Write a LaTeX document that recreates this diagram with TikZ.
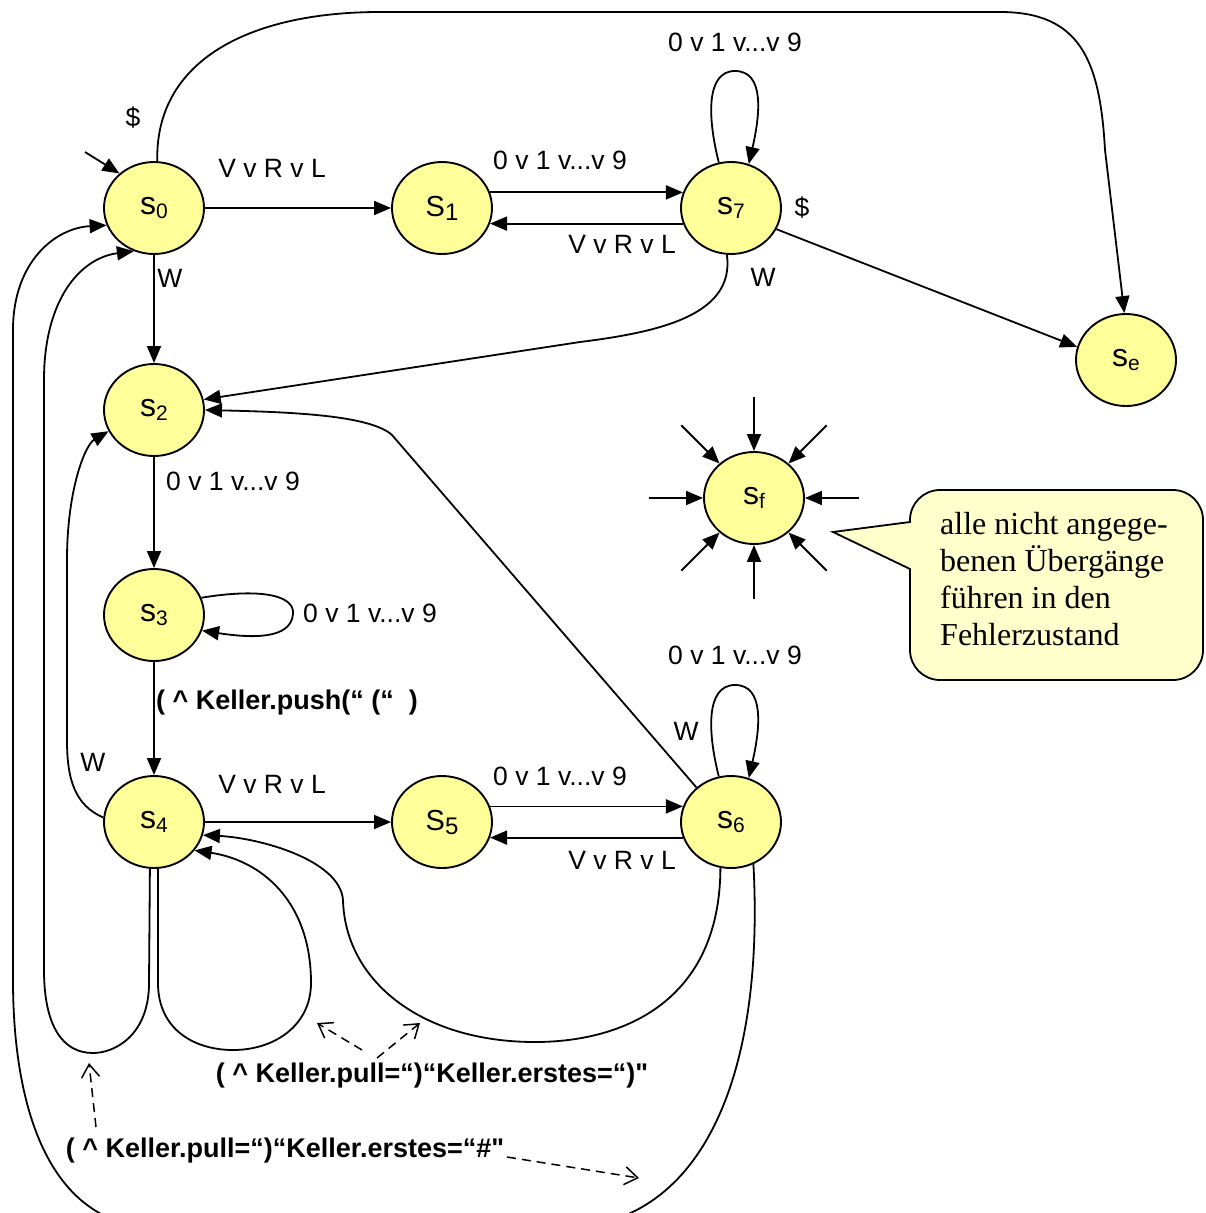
\documentclass[tikz,border=0pt]{standalone}
\usepackage{fontspec}
\setmainfont{Liberation Sans}
\newfontfamily\notefont{Liberation Serif}
\newfontfamily\qfont{Liberation Sans}[Ligatures=ResetAll]
\usetikzlibrary{arrows.meta,shapes.geometric,calc}
\definecolor{stateyellow}{HTML}{FFFF99}
\definecolor{noteyellow}{HTML}{FFFFCC}
\newcommand\stlabel[4]{{\fontsize{#3}{#3}\selectfont #1}\raisebox{-4pt}{\fontsize{#4}{#4}\selectfont #2}}
\newcommand\straightquote{{\qfont\bfseries\symbol{34}}}
\begin{document}
\begin{tikzpicture}[x=1pt,y=-1pt,
  state/.style={ellipse, draw, line width=1.9pt, fill=stateyellow, minimum width=100pt, minimum height=92pt, inner sep=0pt},
  edge/.style={line width=1.8pt, -{Triangle[length=17pt,width=14pt]}},
  lbl/.style={font=\fontsize{26.5}{30}\selectfont, inner sep=0pt},
  blbl/.style={font=\bfseries\fontsize{27}{30}\selectfont, inner sep=0pt},
  hintarrow/.style={line width=1.5pt, dash pattern=on 9pt off 6pt, -{Straight Barb[length=13pt,width=18pt,line width=1.5pt]}}
]
\useasboundingbox (0,0) rectangle (1205,1213);
\clip (0,0) rectangle (1205,1213);

% states
\node[state] (s0) at (154,208) {\stlabel{s}{0}{32}{21}};
\node[state] (s1) at (442,208) {\stlabel{S}{1}{29}{24}};
\node[state] (s7) at (731,208) {\stlabel{s}{7}{32}{21}};
\node[state] (se) at (1126,360) {\stlabel{s}{e}{32}{21}};
\node[state] (s2) at (154,410) {\stlabel{s}{2}{32}{21}};
\node[state] (sf) at (754,498) {\stlabel{s}{f}{32}{21}};
\node[state] (s3) at (154,615) {\stlabel{s}{3}{32}{21}};
\node[state] (s4) at (154,822) {\stlabel{s}{4}{32}{21}};
\node[state] (s5) at (442,822) {\stlabel{S}{5}{29}{24}};
\node[state] (s6) at (731,822) {\stlabel{s}{6}{32}{21}};

% start arrow
\coordinate (start) at (85,152);
\draw[edge] (start) -- (s0.135);

% top row
\draw[edge] (s0.east) -- (s1.west);
\draw[edge] (s1.18) -- (s7.162);
\draw[edge] (s7.-162) -- (s1.-18);
\draw[edge] (s7.105) .. controls (708,120) and (705,71) .. (735,71) .. controls (765,71) and (760,115) .. (s7.68);
\draw[edge] (s7.-25) -- (se.165);
\draw[edge] (s0.86) .. controls (155,60) and (250,12) .. (380,12) -- (1000,12) .. controls (1080,12) and (1100,60) .. (1105,150) -- (se.92);

% left column
\draw[edge] (s0.south) -- (s2.north);
\draw[edge] (s2.south) -- (s3.north);
\draw[edge] (s3.south) -- (s4.north);
\draw[edge] (s3.20) .. controls (260,588) and (295,595) .. (293,614) .. controls (291,640) and (250,638) .. (s3.-18);

% into s2
\draw[edge] (s7.-95) .. controls (735,315) and (660,332) .. (580,342) -- (s2.12);
\draw[edge] (s6.135) -- (392,435) .. controls (370,415) and (290,412) .. (s2.east);
\draw[edge] (s4.175) .. controls (75,805) and (67,780) .. (67,740) -- (67,560) .. controls (67,490) and (85,445) .. (s2.-155);

% bottom row
\draw[edge] (s4.east) -- (s5.west);
\draw[edge] (s5.18) -- (s6.162);
\draw[edge] (s6.-162) -- (s5.-18);
\draw[edge] (s6.105) .. controls (708,734) and (705,685) .. (735,685) .. controls (765,685) and (760,729) .. (s6.68);

% returns
\draw[edge] (s4.-95) -- (149,983) .. controls (149,1035) and (115,1053) .. (93,1053) .. controls (62,1053) and (44,1025) .. (44,970) -- (44,380) .. controls (44,300) and (80,258) .. (s0.-115);
\draw[edge] (s4.-85) -- (158,983) .. controls (158,1030) and (195,1050) .. (233,1050) .. controls (275,1050) and (311,1025) .. (311,983) .. controls (311,900) and (260,860) .. (s4.-35);
\draw[edge] (s6.-103) .. controls (720,1000) and (625,1042) .. (535,1042) .. controls (420,1042) and (345,980) .. (343,900) .. controls (340,860) and (260,838) .. (s4.-15);
\draw[edge] (s6.-62) .. controls (765,1080) and (700,1228) .. (560,1228) -- (160,1228) .. controls (50,1228) and (13,1110) .. (13,980) -- (13,330) .. controls (13,262) and (55,228) .. (s0.-160);

% error state arrows
\foreach \a in {0,45,...,315}
  \draw[edge] ($(sf.\a)+(\a:54pt)$) -- (sf.\a);

% callout
\draw[line width=1.8pt, fill=noteyellow] (833,532) -- (910,569) [rounded corners=30pt] -- (910,680) -- (1203,680) -- (1203,490) -- (910,490) [sharp corners] -- (910,522) -- cycle;
\node[anchor=north west, inner sep=0pt, align=left, font=\notefont\fontsize{32}{37}\selectfont] (note) at (940,512)
  {alle nicht angege-\\benen Übergänge\\führen in den\\Fehlerzustand};

% labels
\node[lbl] (l1) at (133,118) {\$};
\node[lbl] (l2) at (272,168) {V v R v L};
\node[lbl] (l3) at (560,160) {0 v 1 v...v 9};
\node[lbl] (l4) at (622,244) {V v R v L};
\node[lbl] (l5) at (735,42) {0 v 1 v...v 9};
\node[lbl] (l6) at (802,208) {\$};
\node[lbl] (l7) at (170,278) {W};
\node[lbl] (l8) at (763,277) {W};
\node[lbl] (l9) at (233,481) {0 v 1 v...v 9};
\node[lbl] (l10) at (370,613) {0 v 1 v...v 9};
\node[blbl] (push) at (287,703) {( \textasciicircum{} Keller.push(“ (“ \ )};
\node[lbl] (l11) at (93,762) {W};
\node[lbl] (l12) at (272,784) {V v R v L};
\node[lbl] (l13) at (560,776) {0 v 1 v...v 9};
\node[lbl] (l14) at (622,860) {V v R v L};
\node[lbl] (l15) at (735,655) {0 v 1 v...v 9};
\node[lbl] (l16) at (686,731) {W};
\node[blbl] (pull1) at (432,1076) {( \textasciicircum{} Keller.pull=“)“Keller.erstes=“)\straightquote};
\node[blbl] (pull2) at (285,1151) {( \textasciicircum{} Keller.pull=“)“Keller.erstes=“\#\straightquote};

% hint arrows
\coordinate (h1s) at (362,1050);
\coordinate (h1t) at (317,1023);
\coordinate (h2s) at (377,1058);
\coordinate (h2t) at (420,1023);
\coordinate (h3s) at (96,1127);
\coordinate (h3t) at (89,1063);
\coordinate (h4s) at (507,1157);
\coordinate (h4t) at (639,1178);
\draw[hintarrow] (h1s) -- (h1t);
\draw[hintarrow] (h2s) -- (h2t);
\draw[hintarrow] (h3s) -- (h3t);
\draw[hintarrow] (h4s) -- (h4t);
\end{tikzpicture}
\end{document}
